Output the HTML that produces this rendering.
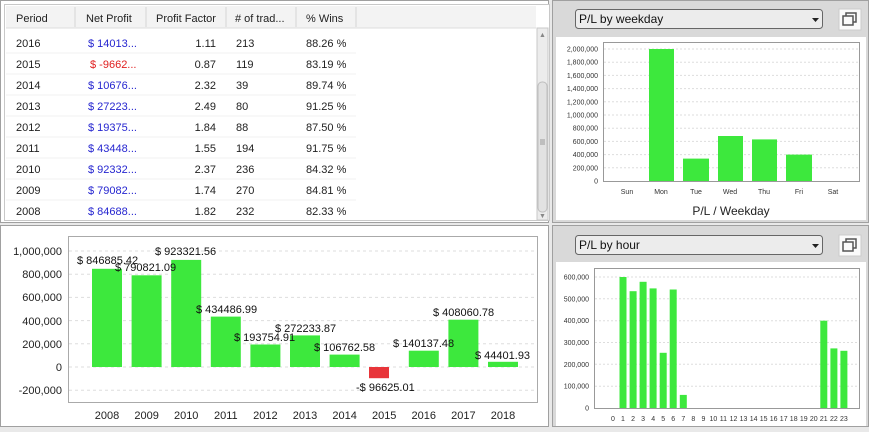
<!DOCTYPE html>
<html><head><meta charset="utf-8"><style>
body{margin:0;width:869px;height:427px;overflow:hidden;background:#e9e9e9;font-family:"Liberation Sans",Arial,sans-serif}
</style></head><body>
<svg width="869" height="427" xmlns="http://www.w3.org/2000/svg" font-family="Liberation Sans, Arial, sans-serif">
<rect width="869" height="427" fill="#e9e9e9"/>
<!-- Table panel -->
<rect x="0.5" y="0.5" width="548" height="222" fill="#fff" stroke="#a0a0a0"/>
<rect x="4.5" y="4.5" width="545" height="216" fill="#fff" stroke="#c8c8c8"/>
<rect x="6" y="6" width="530" height="22" fill="#f3f3f3"/>
<line x1="6" y1="28" x2="536" y2="28" stroke="#dcdcdc"/>
<g stroke="#d6d6d6"><line x1="75" y1="7" x2="75" y2="27"/><line x1="146" y1="7" x2="146" y2="27"/><line x1="226" y1="7" x2="226" y2="27"/><line x1="296" y1="7" x2="296" y2="27"/><line x1="356" y1="7" x2="356" y2="27"/></g>
<g font-size="11" fill="#222"><text x="16" y="22">Period</text><text x="86" y="22">Net Profit</text><text x="156" y="22">Profit Factor</text><text x="235" y="22"># of trad...</text><text x="306" y="22">% Wins</text></g>
<g stroke="#f0f0f0"><line x1="6" y1="53" x2="356" y2="53"/><line x1="6" y1="74" x2="356" y2="74"/><line x1="6" y1="95" x2="356" y2="95"/><line x1="6" y1="116" x2="356" y2="116"/><line x1="6" y1="137" x2="356" y2="137"/><line x1="6" y1="158" x2="356" y2="158"/><line x1="6" y1="179" x2="356" y2="179"/><line x1="6" y1="200" x2="356" y2="200"/></g>
<g font-size="11" fill="#222">
<text x="16" y="47">2016</text><text x="16" y="68">2015</text><text x="16" y="89">2014</text><text x="16" y="110">2013</text><text x="16" y="131">2012</text><text x="16" y="152">2011</text><text x="16" y="173">2010</text><text x="16" y="194">2009</text><text x="16" y="215">2008</text>
</g>
<g font-size="11" fill="#2626d0">
<text x="88" y="47">$ 14013...</text><text x="90" y="68" fill="#e02020">$ -9662...</text><text x="88" y="89">$ 10676...</text><text x="88" y="110">$ 27223...</text><text x="88" y="131">$ 19375...</text><text x="88" y="152">$ 43448...</text><text x="88" y="173">$ 92332...</text><text x="88" y="194">$ 79082...</text><text x="88" y="215">$ 84688...</text>
</g>
<g font-size="11" fill="#222" text-anchor="end">
<text x="216" y="47">1.11</text><text x="216" y="68">0.87</text><text x="216" y="89">2.32</text><text x="216" y="110">2.49</text><text x="216" y="131">1.84</text><text x="216" y="152">1.55</text><text x="216" y="173">2.37</text><text x="216" y="194">1.74</text><text x="216" y="215">1.82</text>
</g>
<g font-size="11" fill="#222">
<text x="236" y="47">213</text><text x="236" y="68">119</text><text x="236" y="89">39</text><text x="236" y="110">80</text><text x="236" y="131">88</text><text x="236" y="152">194</text><text x="236" y="173">236</text><text x="236" y="194">270</text><text x="236" y="215">232</text>
<text x="306" y="47">88.26 %</text><text x="306" y="68">83.19 %</text><text x="306" y="89">89.74 %</text><text x="306" y="110">91.25 %</text><text x="306" y="131">87.50 %</text><text x="306" y="152">91.75 %</text><text x="306" y="173">84.32 %</text><text x="306" y="194">84.81 %</text><text x="306" y="215">82.33 %</text>
</g>
<rect x="537" y="28" width="11" height="192" fill="#ececec" stroke="#c8c8c8"/>
<rect x="538" y="82" width="9" height="130" rx="4" fill="#e2e2e2" stroke="#bdbdbd"/>
<text x="542.5" y="37" font-size="7" fill="#888" text-anchor="middle">▲</text>
<text x="542.5" y="218" font-size="7" fill="#888" text-anchor="middle">▼</text>
<g stroke="#999"><line x1="540" y1="140" x2="545" y2="140"/><line x1="540" y1="142" x2="545" y2="142"/><line x1="540" y1="144" x2="545" y2="144"/></g>

<!-- Weekday panel -->
<rect x="552.5" y="0.5" width="316" height="222" fill="#d9d9d9" stroke="#a0a0a0"/>
<rect x="556" y="37" width="310" height="183" fill="#fff"/>
<rect x="575.5" y="9.5" width="247" height="19" rx="3" fill="#ececec" stroke="#666"/>
<text x="579" y="23" font-size="12" fill="#111">P/L by weekday</text>
<path d="M812 18 l7 0 l-3.5 4z" fill="#222"/>
<rect x="839" y="9" width="22" height="21" fill="#fafafa" stroke="#ccc"/>
<rect x="846" y="13" width="10" height="9" fill="none" stroke="#555" stroke-width="1.5"/>
<rect x="843" y="16" width="10" height="9" fill="#fafafa" stroke="#555" stroke-width="1.5"/>
<rect x="603.5" y="42.5" width="256" height="139" fill="#fff" stroke="#999"/>
<g stroke="#ddd" stroke-dasharray="2,2"><line x1="604" y1="167.8" x2="859" y2="167.8"/><line x1="604" y1="154.6" x2="859" y2="154.6"/><line x1="604" y1="141.4" x2="859" y2="141.4"/><line x1="604" y1="128.2" x2="859" y2="128.2"/><line x1="604" y1="115" x2="859" y2="115"/><line x1="604" y1="101.8" x2="859" y2="101.8"/><line x1="604" y1="88.6" x2="859" y2="88.6"/><line x1="604" y1="75.4" x2="859" y2="75.4"/><line x1="604" y1="62.2" x2="859" y2="62.2"/><line x1="604" y1="49" x2="859" y2="49"/></g>
<g font-size="7" fill="#333" text-anchor="end">
<text x="598" y="183.5">0</text><text x="598" y="170.3">200,000</text><text x="598" y="157.1">400,000</text><text x="598" y="143.9">600,000</text><text x="598" y="130.7">800,000</text><text x="598" y="117.5">1,000,000</text><text x="598" y="104.3">1,200,000</text><text x="598" y="91.1">1,400,000</text><text x="598" y="77.9">1,600,000</text><text x="598" y="64.7">1,800,000</text><text x="598" y="51.5">2,000,000</text>
</g>
<g fill="#3de83d"><rect x="649" y="49" width="25" height="132"/><rect x="683" y="158.6" width="26" height="22.4"/><rect x="718" y="136" width="25" height="45"/><rect x="752" y="139.4" width="25" height="41.6"/><rect x="786" y="154.6" width="26" height="26.4"/></g>
<g font-size="7" fill="#333" text-anchor="middle"><text x="627" y="194">Sun</text><text x="661" y="194">Mon</text><text x="696" y="194">Tue</text><text x="730" y="194">Wed</text><text x="764" y="194">Thu</text><text x="799" y="194">Fri</text><text x="833" y="194">Sat</text></g>
<text x="731" y="215" font-size="12" fill="#222" text-anchor="middle">P/L / Weekday</text>

<!-- Yearly panel -->
<rect x="0.5" y="225.5" width="548" height="201" fill="#fff" stroke="#a0a0a0"/>
<rect x="68.5" y="236.5" width="469" height="166" fill="#fff" stroke="#aaa"/>
<g stroke="#ddd" stroke-dasharray="3,3"><line x1="69" y1="251" x2="537" y2="251"/><line x1="69" y1="274.2" x2="537" y2="274.2"/><line x1="69" y1="297.4" x2="537" y2="297.4"/><line x1="69" y1="320.6" x2="537" y2="320.6"/><line x1="69" y1="343.8" x2="537" y2="343.8"/><line x1="69" y1="367" x2="537" y2="367"/><line x1="69" y1="390.2" x2="537" y2="390.2"/></g>
<g font-size="11" fill="#222" text-anchor="end"><text x="62" y="255">1,000,000</text><text x="62" y="278">800,000</text><text x="62" y="301">600,000</text><text x="62" y="325">400,000</text><text x="62" y="348">200,000</text><text x="62" y="371">0</text><text x="62" y="394">-200,000</text></g>
<g fill="#3de83d">
<rect x="92" y="268.8" width="30" height="98.2"/><rect x="131.6" y="275.3" width="30" height="91.7"/><rect x="171.2" y="259.9" width="30" height="107.1"/><rect x="210.8" y="316.6" width="30" height="50.4"/><rect x="250.4" y="344.5" width="30" height="22.5"/><rect x="290" y="335.4" width="30" height="31.6"/><rect x="329.6" y="354.6" width="30" height="12.4"/><rect x="408.8" y="350.7" width="30" height="16.3"/><rect x="448.4" y="319.7" width="30" height="47.3"/><rect x="488" y="361.8" width="30" height="5.2"/>
</g>
<rect x="369" y="367" width="20" height="11.2" fill="#e8353a"/>
<g font-size="11" fill="#111">
<text x="77" y="264">$ 846885.42</text><text x="115" y="271">$ 790821.09</text><text x="155" y="255">$ 923321.56</text><text x="196" y="313">$ 434486.99</text><text x="234" y="341">$ 193754.91</text><text x="275" y="332">$ 272233.87</text><text x="314" y="351">$ 106762.58</text><text x="356" y="391">-$ 96625.01</text><text x="393" y="347">$ 140137.48</text><text x="433" y="316">$ 408060.78</text><text x="475" y="359">$ 44401.93</text>
</g>
<g font-size="11" fill="#222" text-anchor="middle"><text x="107" y="419">2008</text><text x="146.6" y="419">2009</text><text x="186.2" y="419">2010</text><text x="225.8" y="419">2011</text><text x="265.4" y="419">2012</text><text x="305" y="419">2013</text><text x="344.6" y="419">2014</text><text x="384.2" y="419">2015</text><text x="423.8" y="419">2016</text><text x="463.4" y="419">2017</text><text x="503" y="419">2018</text></g>

<!-- Hour panel -->
<rect x="552.5" y="225.5" width="316" height="201" fill="#d9d9d9" stroke="#a0a0a0"/>
<rect x="556" y="262" width="310" height="164" fill="#fff"/>
<rect x="575.5" y="235.5" width="247" height="19" rx="3" fill="#ececec" stroke="#666"/>
<text x="579" y="249" font-size="12" fill="#111">P/L by hour</text>
<path d="M812 244 l7 0 l-3.5 4z" fill="#222"/>
<rect x="839" y="235" width="22" height="21" fill="#fafafa" stroke="#ccc"/>
<rect x="846" y="239" width="10" height="9" fill="none" stroke="#555" stroke-width="1.5"/>
<rect x="843" y="242" width="10" height="9" fill="#fafafa" stroke="#555" stroke-width="1.5"/>
<rect x="594.5" y="268.5" width="265" height="140" fill="#fff" stroke="#999"/>
<g stroke="#ddd" stroke-dasharray="2,2"><line x1="595" y1="386.2" x2="859" y2="386.2"/><line x1="595" y1="364.3" x2="859" y2="364.3"/><line x1="595" y1="342.5" x2="859" y2="342.5"/><line x1="595" y1="320.7" x2="859" y2="320.7"/><line x1="595" y1="298.8" x2="859" y2="298.8"/><line x1="595" y1="277" x2="859" y2="277"/></g>
<g font-size="7" fill="#333" text-anchor="end"><text x="589" y="410.5">0</text><text x="589" y="388.7">100,000</text><text x="589" y="366.8">200,000</text><text x="589" y="345">300,000</text><text x="589" y="323.2">400,000</text><text x="589" y="301.3">500,000</text><text x="589" y="279.5">600,000</text></g>
<g fill="#3de83d">
<rect x="619.5" y="277" width="7" height="131"/><rect x="629.6" y="291.2" width="7" height="116.8"/><rect x="639.6" y="281.8" width="7" height="126.2"/><rect x="649.6" y="288.4" width="7" height="119.6"/><rect x="659.7" y="352.8" width="7" height="55.2"/><rect x="669.7" y="289.5" width="7" height="118.5"/><rect x="679.8" y="394.9" width="7" height="13.1"/><rect x="820.3" y="320.7" width="7" height="87.3"/><rect x="830.4" y="348.4" width="7" height="59.6"/><rect x="840.4" y="350.8" width="7" height="57.2"/>
</g>
<g font-size="7" fill="#333" text-anchor="middle">
<text x="613" y="421">0</text><text x="623" y="421">1</text><text x="633.1" y="421">2</text><text x="643.1" y="421">3</text><text x="653.2" y="421">4</text><text x="663.2" y="421">5</text><text x="673.2" y="421">6</text><text x="683.3" y="421">7</text><text x="693.3" y="421">8</text><text x="703.4" y="421">9</text><text x="713.4" y="421">10</text><text x="723.4" y="421">11</text><text x="733.5" y="421">12</text><text x="743.5" y="421">13</text><text x="753.6" y="421">14</text><text x="763.6" y="421">15</text><text x="773.6" y="421">16</text><text x="783.7" y="421">17</text><text x="793.7" y="421">18</text><text x="803.8" y="421">19</text><text x="813.8" y="421">20</text><text x="823.8" y="421">21</text><text x="833.9" y="421">22</text><text x="843.9" y="421">23</text>
</g>
</svg>
</body></html>
